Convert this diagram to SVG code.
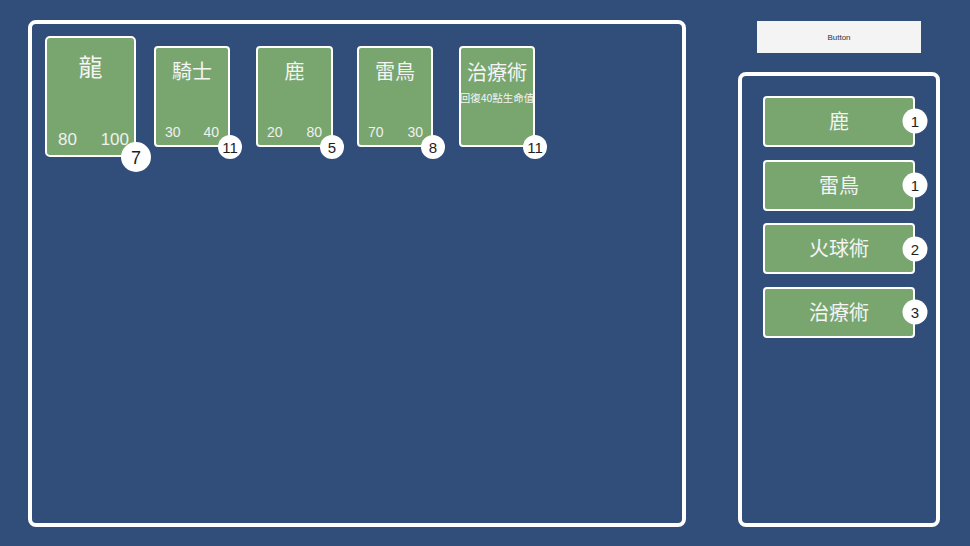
<svg xmlns="http://www.w3.org/2000/svg" width="970" height="546" viewBox="0 0 970 546">
<style>
.panel{fill:none;stroke:#ffffff;stroke-width:4}
.card{fill:#79a66f;stroke:#ffffff;stroke-width:2}
.t{font-family:"Noto Sans CJK TC","Noto Sans CJK SC","Liberation Sans",sans-serif;fill:#f4f4f4;text-anchor:middle}
.n{font-family:"Liberation Sans","Noto Sans",sans-serif;fill:#f0f0f0}
.badge{fill:#ffffff}
.bt{font-family:"Liberation Sans","Noto Sans",sans-serif;fill:#1e1e1e;text-anchor:middle}
</style>
<rect width="970" height="546" fill="#314e7a"/>
<g id="board">
<rect class="panel" x="30" y="22" width="654" height="503" rx="6"/>
</g>
<g id="hand">
<rect class="panel" x="740" y="74" width="198" height="451" rx="6"/>
</g>
<g id="button">
<rect x="757" y="21" width="164" height="32" fill="#f4f4f4"/>
<text x="839" y="40" font-family="Liberation Sans,sans-serif" font-size="8" fill="#333" text-anchor="middle">Button</text>
</g>
<g id="card-dragon">
<rect class="card" x="46" y="37" width="89" height="119" rx="4"/>
<text class="t" x="90.5" y="76" font-size="24">龍</text>
<text class="n" x="58" y="145" font-size="17">80</text>
<text class="n" x="129" y="145" font-size="17" text-anchor="end">100</text>
<circle class="badge" cx="136" cy="157" r="15"/>
<text class="bt" x="136" y="163.5" font-size="18">7</text>
</g>
<g id="card-knight">
<rect class="card" x="155" y="47" width="74" height="99" rx="3"/>
<text class="t" x="192" y="79" font-size="20">騎士</text>
<text class="n" x="165" y="137" font-size="14">30</text>
<text class="n" x="219" y="137" font-size="14" text-anchor="end">40</text>
<circle class="badge" cx="230" cy="147" r="12"/>
<text class="bt" x="230" y="152.5" font-size="15">11</text>
</g>
<g id="card-deer">
<rect class="card" x="257" y="47" width="75" height="99" rx="3"/>
<text class="t" x="294.5" y="79" font-size="20">鹿</text>
<text class="n" x="267" y="137" font-size="14">20</text>
<text class="n" x="322" y="137" font-size="14" text-anchor="end">80</text>
<circle class="badge" cx="332" cy="147" r="12"/>
<text class="bt" x="332" y="152.5" font-size="15">5</text>
</g>
<g id="card-thunderbird">
<rect class="card" x="358" y="47" width="74" height="99" rx="3"/>
<text class="t" x="395" y="79" font-size="20">雷鳥</text>
<text class="n" x="368" y="137" font-size="14">70</text>
<text class="n" x="423" y="137" font-size="14" text-anchor="end">30</text>
<circle class="badge" cx="433" cy="147" r="12"/>
<text class="bt" x="433" y="152.5" font-size="15">8</text>
</g>
<g id="card-heal">
<rect class="card" x="460" y="47" width="74" height="99" rx="3"/>
<text class="t" x="497" y="101.5" font-size="10.5">回復40點生命值</text>
<text class="t" x="497" y="80" font-size="20">治療術</text>
<circle class="badge" cx="535" cy="147" r="12"/>
<text class="bt" x="535" y="152.5" font-size="15">11</text>
</g>
<g id="hand-deer">
<rect class="card" x="764" y="97" width="150" height="49" rx="3"/>
<text class="t" x="839" y="129" font-size="20">鹿</text>
<circle class="badge" cx="915" cy="121" r="12.5"/>
<text class="bt" x="915" y="126.5" font-size="15">1</text>
</g>
<g id="hand-thunderbird">
<rect class="card" x="764" y="161" width="150" height="49" rx="3"/>
<text class="t" x="839" y="193" font-size="20">雷鳥</text>
<circle class="badge" cx="915" cy="185" r="12.5"/>
<text class="bt" x="915" y="190.5" font-size="15">1</text>
</g>
<g id="hand-fireball">
<rect class="card" x="764" y="224" width="150" height="49" rx="3"/>
<text class="t" x="839" y="256" font-size="20">火球術</text>
<circle class="badge" cx="915" cy="249" r="12.5"/>
<text class="bt" x="915" y="254.5" font-size="15">2</text>
</g>
<g id="hand-heal">
<rect class="card" x="764" y="288" width="150" height="49" rx="3"/>
<text class="t" x="839" y="320" font-size="20">治療術</text>
<circle class="badge" cx="915" cy="312" r="12.5"/>
<text class="bt" x="915" y="317.5" font-size="15">3</text>
</g>
<g id="connectors"></g>
</svg>
